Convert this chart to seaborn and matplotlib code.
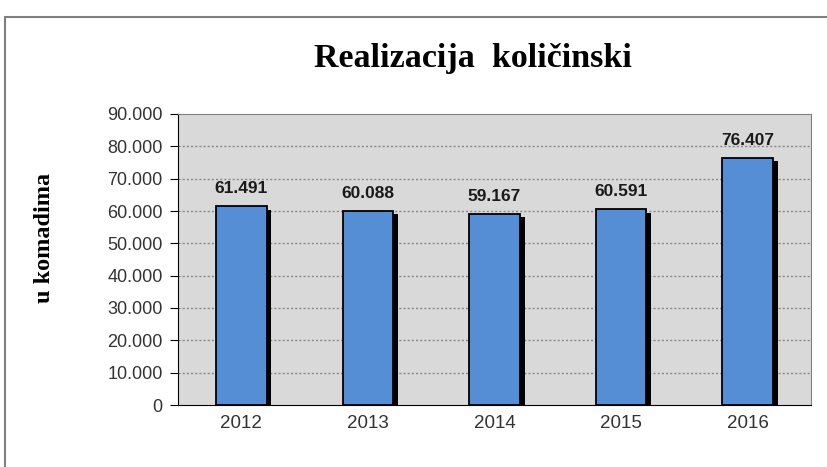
import pandas as pd
from matplotlib import pyplot as plt
from matplotlib import patheffects as pe
from matplotlib.patches import Rectangle
import seaborn as sns

years = ["2012", "2013", "2014", "2015", "2016"]
values = [61491, 60088, 59167, 60591, 76407]
labels = ["61.491", "60.088", "59.167", "60.591", "76.407"]
yticks = [0, 10000, 20000, 30000, 40000, 50000, 60000, 70000, 80000, 90000]
ytick_labels = ["0", "10.000", "20.000", "30.000", "40.000", "50.000",
                "60.000", "70.000", "80.000", "90.000"]

df = pd.DataFrame({"year": years, "value": values})

sns.set_style("white")
plt.rcParams["font.family"] = ["Liberation Sans", "DejaVu Sans"]

fig = plt.figure(figsize=(8.28, 4.67), dpi=100)
ax = fig.add_axes([178 / 828, 1 - 405 / 467, (811 - 178) / 828, (405 - 114) / 467])

# outer frame of the chart
fig.patches.append(Rectangle((5 / 828, -0.1), 1.1, 1 - 17 / 467 + 0.1,
                             transform=fig.transFigure, fill=False,
                             edgecolor="#808080", linewidth=1.5))

sns.barplot(data=df, x="year", y="value", color="#558ED5", saturation=1,
            width=0.4, edgecolor="black", linewidth=1.3, ax=ax)
for bar in ax.patches:
    bar.set_path_effects([pe.SimplePatchShadow(offset=(3.5, -2.5), shadow_rgbFace="black", alpha=1),
                          pe.Normal()])

for i, v in enumerate(values):
    ax.text(i, v + 4000, labels[i], ha="center", va="baseline",
            fontsize=12.5, fontweight="bold", color="#1a1a1a")

ax.set_facecolor("#D9D9D9")
ax.set_ylim(0, 90000)
ax.set_xlim(-0.5, 4.5)
ax.set_yticks(yticks)
ax.set_yticklabels(ytick_labels, fontsize=13, color="#333333")
ax.set_xticks(range(5))
ax.set_xticklabels(years, fontsize=13.5, color="#333333")
ax.set_xticks([-0.5, 0.5, 1.5, 2.5, 3.5, 4.5], minor=True)
ax.tick_params(axis="x", which="major", length=0, pad=7)
ax.tick_params(axis="x", which="minor", length=5, direction="out", color="black")
ax.tick_params(axis="y", length=6, direction="out", color="black", left=True, pad=5)
for y in yticks[1:-1]:
    ax.axhline(y, color="#888888", linestyle=(0, (1.5, 1.5)), linewidth=1, zorder=0)
ax.set_axisbelow(True)
for s in ["top", "right"]:
    ax.spines[s].set_color("#808080")
for s in ["left", "bottom"]:
    ax.spines[s].set_color("black")
ax.set_xlabel("")
ax.set_ylabel("")

fig.text(473 / 828, 1 - 58 / 467, "Realizacija  količinski", ha="center", va="center",
         fontsize=24.5, fontweight="bold", color="black",
         family=["Liberation Serif", "DejaVu Serif"])
fig.text(45 / 828, 1 - 238 / 467, "u komadima", ha="center", va="center", rotation=90,
         fontsize=17.5, fontweight="bold", color="black",
         family=["Liberation Serif", "DejaVu Serif"])

fig.savefig("out.png", dpi=100)
